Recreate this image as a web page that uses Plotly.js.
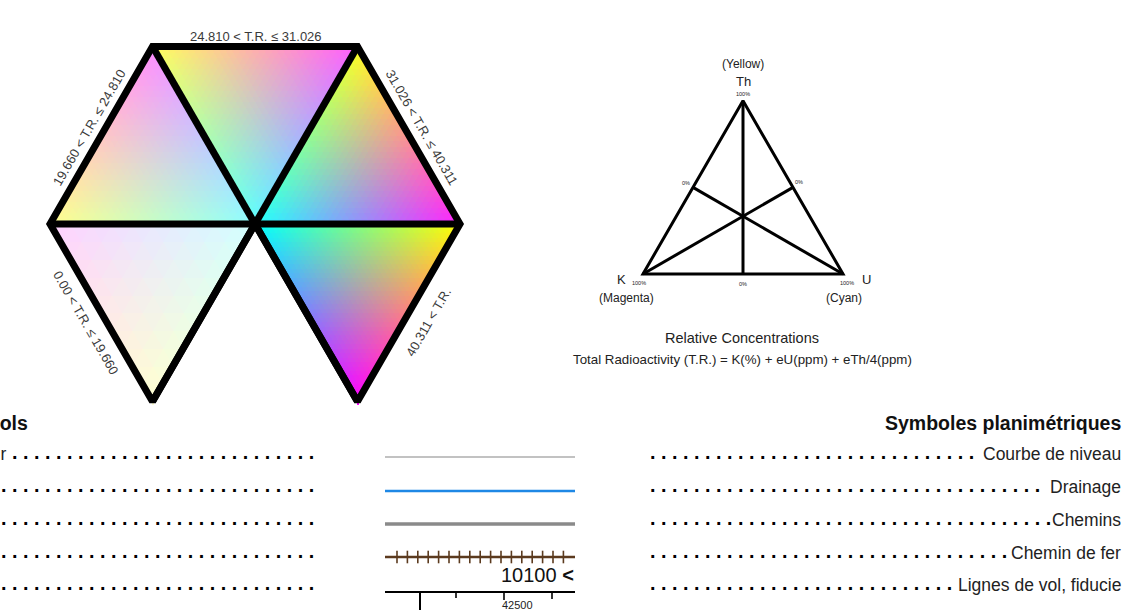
<!DOCTYPE html>
<html><head><meta charset="utf-8">
<script src="https://cdn.plot.ly/plotly-3.0.1.min.js"></script>
<style>html,body{margin:0;padding:0;background:#fff;}#chart{width:1130px;height:610px;}</style>
</head><body><div id="chart"></div>
<script>
// ---------------- data ----------------
const trBreaks = [0.00, 19.660, 24.810, 31.026, 40.311];
const trClassLabels = ["0.00 < T.R. ≤ 19.660", "19.660 < T.R. ≤ 24.810", "24.810 < T.R. ≤ 31.026", "31.026 < T.R. ≤ 40.311", "40.311 < T.R."];
const endMembers = ["K", "U", "Th"];
const endMemberColourNames = ["(Magenta)", "(Cyan)", "(Yellow)"];
const percentLabels = ["100%", "0%"];
const diagramTitle = "Relative Concentrations";
const diagramFormula = "Total Radioactivity (T.R.) = K(%) + eU(ppm) + eTh/4(ppm)";
const legendTitleEn = "Planimetric Symbols";
const legendTitleFr = "Symboles planimétriques";
const legendLabelsEn = ["Contour", "Drainage", "Roads", "Railway", "Flight lines, fiducial"];
const legendLabelsFr = ["Courbe de niveau", "Drainage", "Chemins", "Chemin de fer", "Lignes de vol, fiducie"];
const fiducialLabels = ["10100", "42500"];

// ---------------- styles / geometry ----------------
const FONT = '"Liberation Sans", Arial, sans-serif';
const RGB = {K: [255, 0, 255], U: [0, 255, 255], Th: [255, 255, 0]};
const classIntensity = [0.18, 0.45, 0.64, 0.87, 1.0];
const classCells = [10, 32, 32, 32, 40];
const side = 205, hh = side * Math.sqrt(3) / 2, hx = 255, hy = 224;
const P0 = [hx - side / 2, hy - hh], P1 = [hx + side / 2, hy - hh];
const PR = [hx + side, hy], PL = [hx - side, hy];
const B0 = [hx - side / 2, hy + hh], B1 = [hx + side / 2, hy + hh], PC = [hx, hy];
// [K vertex, U vertex, Th vertex] for each T.R. class
const classTri = [[PL, PC, B0], [P0, PC, PL], [P1, PC, P0], [PR, PC, P1], [B1, PC, PR]];

function bary(p, t) {
  const [a, b, c] = t;
  const det = (b[1] - c[1]) * (a[0] - c[0]) + (c[0] - b[0]) * (a[1] - c[1]);
  const l1 = ((b[1] - c[1]) * (p[0] - c[0]) + (c[0] - b[0]) * (p[1] - c[1])) / det;
  const l2 = ((c[1] - a[1]) * (p[0] - c[0]) + (a[0] - c[0]) * (p[1] - c[1])) / det;
  return [l1, l2, 1 - l1 - l2];
}
function quant(b, n) {
  const i = Math.min(n - 1, Math.floor(b[0] * n)), j = Math.min(n - 1, Math.floor(b[1] * n)), k = Math.min(n - 1, Math.floor(b[2] * n));
  const off = (i + j + k >= n - 1) ? 1 / 3 : 2 / 3;
  const q = [(i + off) / n, (j + off) / n, (k + off) / n];
  const s = q[0] + q[1] + q[2];
  return q.map(v => v / s);
}
const imgX0 = 44, imgY0 = 40, imgW = 422, imgH = 370;
const z = [];
for (let r = 0; r < imgH; r++) {
  const row = [];
  for (let c = 0; c < imgW; c++) {
    const p = [imgX0 + c, imgY0 + r];
    let col = [255, 255, 255, 0];
    for (let t = 0; t < trClassLabels.length; t++) {
      const b = bary(p, classTri[t]);
      if (b[0] >= -0.01 && b[1] >= -0.01 && b[2] >= -0.01) {
        const q = quant(b.map(v => Math.max(0, v)), classCells[t]);
        const s = classIntensity[t];
        col = [0, 1, 2].map(k => Math.round(255 * (1 - s) + s * (q[0] * RGB.K[k] + q[1] * RGB.U[k] + q[2] * RGB.Th[k])));
        col.push(1);
        break;
      }
    }
    row.push(col);
  }
  z.push(row);
}

const traces = [];
traces.push({type: 'image', z: z, colormodel: 'rgba', x0: imgX0, y0: imgY0, dx: 1, dy: 1, hoverinfo: 'skip'});

function seg(pts, color, width) {
  traces.push({type: 'scatter', mode: 'lines', x: pts.map(p => p[0]), y: pts.map(p => p[1]),
    line: {color: color, width: width}, hoverinfo: 'skip', cliponaxis: false});
}
// hexagon frame
seg([P0, P1, PR, B1, PC, B0, PL, P0, P1], '#000', 7);
seg([PL, PR], '#000', 7);
seg([P0, B1], '#000', 7);
seg([P1, B0], '#000', 7);

// ternary reference diagram
const TK = [643, 274], TU = [843, 274], TT = [743, 274 - 200 * Math.sqrt(3) / 2];
const mid = (a, b) => [(a[0] + b[0]) / 2, (a[1] + b[1]) / 2];
seg([TK, TT, TU, TK, TT], '#000', 3);
seg([TT, mid(TK, TU)], '#000', 3);
seg([TK, mid(TT, TU)], '#000', 3);
seg([TU, mid(TK, TT)], '#000', 3);

// legend symbol samples
const rowY = [454, 487, 520, 553, 585];
const sampleX = [385, 575];
seg([[sampleX[0], 457], [sampleX[1], 457]], '#c2c2c2', 2.2);
seg([[sampleX[0], 491], [sampleX[1], 491]], '#1e88e5', 2.6);
seg([[sampleX[0], 524], [sampleX[1], 524]], '#8a8a8a', 3.6);
seg([[sampleX[0], 557], [sampleX[1], 557]], '#5b3a1e', 2.4);
const tieX = [];
for (let i = 0; i < 17; i++) tieX.push(397 + i * 10.4);
traces.push({type: 'scatter', mode: 'markers', x: tieX, y: tieX.map(() => 557), hoverinfo: 'skip', cliponaxis: false,
  marker: {symbol: 'line-ns', size: 9, line: {color: '#5b3a1e', width: 1.6}}});
seg([[sampleX[0], 592], [sampleX[1], 592]], '#000', 2);
seg([[420, 592], [420, 612]], '#000', 2);
seg([[456, 592], [456, 598]], '#000', 1.6);
seg([[504, 592], [504, 600]], '#000', 1.6);
seg([[552, 592], [552, 599]], '#000', 1.6);

// ---------------- annotations ----------------
const ann = [];
function txt(t, x, y, size, opts) {
  opts = opts || {};
  ann.push(Object.assign({text: t, x: x, y: y, xref: 'x', yref: 'y', showarrow: false,
    xanchor: 'center', yanchor: 'middle', font: {family: FONT, size: size, color: '#222'}}, opts));
}
// T.R. class labels along the hexagon edges
const classLabelPos = [[86, 322, 60], [89, 127, -60], [256, 36, 0], [422, 127, 60], [428, 322, -60]];
trClassLabels.forEach((l, i) => txt(l, classLabelPos[i][0], classLabelPos[i][1], 13, {textangle: classLabelPos[i][2], font: {family: FONT, size: 13, color: '#3a3a3a'}}));

// ternary labels
txt(endMemberColourNames[2], 743, 64, 12);
txt(endMembers[2], 743, 81, 13);
txt(percentLabels[0], 743, 94, 5.5);
txt(percentLabels[1], 686, 183, 5.5);
txt(percentLabels[1], 799, 182, 5.5);
txt(endMembers[0], 621, 279, 13);
txt(percentLabels[0], 639, 283, 5.5);
txt(endMemberColourNames[0], 626, 298, 12);
txt(percentLabels[1], 743, 284, 5.5);
txt(percentLabels[0], 847, 283, 5.5);
txt(endMembers[1], 866, 279, 13);
txt(endMemberColourNames[1], 844, 298, 12);
txt(diagramTitle, 742, 338, 14.5);
txt(diagramFormula, 742, 359, 13.3);

// legend titles
txt('<b>' + legendTitleEn + '</b>', 30, 423, 19.5, {xanchor: 'right', font: {family: FONT, size: 19.5, color: '#111'}});
txt('<b>' + legendTitleFr + '</b>', 1123, 423, 19.5, {xanchor: 'right', font: {family: FONT, size: 19.5, color: '#111'}});

// dot leaders
const ctx = document.createElement('canvas').getContext('2d');
const labelSize = 17.5, dotSize = 19.8;
function textW(t, size) { ctx.font = size + 'px ' + FONT; return ctx.measureText(t).width; }
const dotStep = textW('.', dotSize) * 2;
const dots = n => Array(n).fill('.').join('\u00a0');
const leftDotCounts = [28, 29, 29, 29, 29];
const leftDotsEnd = 316;
legendLabelsEn.forEach((l, i) => {
  const n = leftDotCounts[i];
  const w = (2 * n - 1) * dotStep / 2;
  txt('<b>' + dots(n) + '</b>', leftDotsEnd, rowY[i] - 2, dotSize, {xanchor: 'right', font: {family: FONT, size: dotSize, color: '#000'}});
  txt(l, leftDotsEnd - w - 6, rowY[i], labelSize, {xanchor: 'right'});
});
const rightDotsStart = 648, rightEnd = 1123;
legendLabelsFr.forEach((l, i) => {
  const w = textW(l, labelSize);
  const avail = rightEnd - w - 4 - rightDotsStart;
  const n = Math.floor((avail / (dotStep / 2) + 1) / 2);
  txt('<b>' + dots(n) + '</b>', rightDotsStart, rowY[i] - 2, dotSize, {xanchor: 'left', font: {family: FONT, size: dotSize, color: '#000'}});
  txt(l, rightEnd, rowY[i], labelSize, {xanchor: 'right'});
});

// fiducial labels
txt(fiducialLabels[0] + ' <b>&lt;</b>', 576, 575, 20, {xanchor: 'right', font: {family: FONT, size: 20, color: '#111'}});
txt(fiducialLabels[1], 517, 605, 11);

const layout = {
  width: 1130, height: 610, margin: {l: 0, r: 0, t: 0, b: 0},
  paper_bgcolor: '#fff', plot_bgcolor: '#fff', showlegend: false,
  xaxis: {range: [0, 1130], visible: false, fixedrange: true},
  yaxis: {range: [610, 0], visible: false, fixedrange: true},
  annotations: ann
};
Plotly.newPlot('chart', traces, layout, {displayModeBar: false, staticPlot: true});
</script></body></html>
